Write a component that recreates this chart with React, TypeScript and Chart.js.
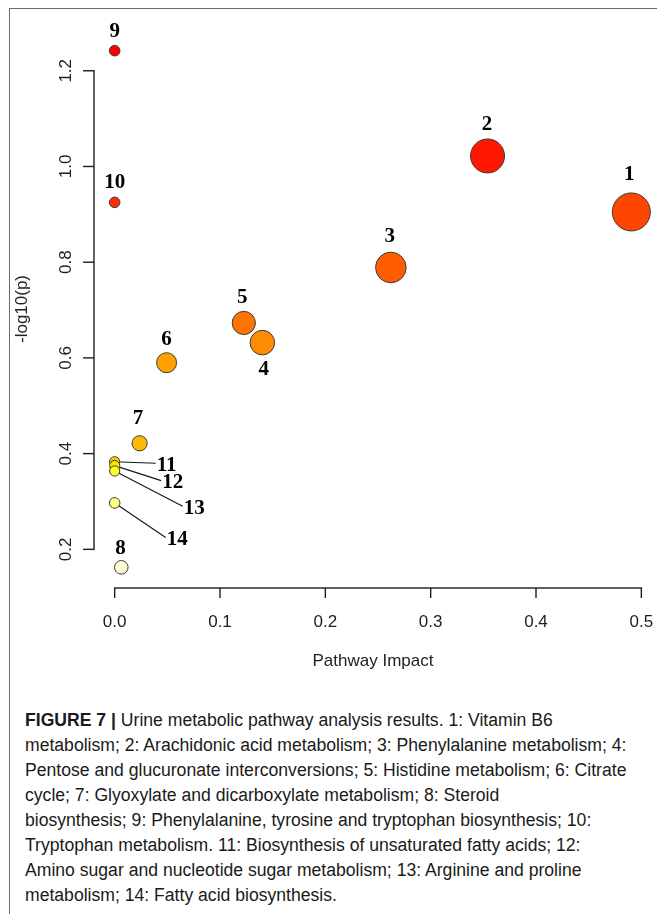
import React, { useEffect, useRef } from "react";
import { Chart, registerables } from "chart.js";

Chart.register(...registerables);

// ---- data ----
const pathwayIds = ["1", "2", "3", "4", "5", "6", "7", "8", "9", "10", "11", "12", "13", "14"];
const pathwayImpact = [0.4905, 0.354, 0.2622, 0.1402, 0.1226, 0.0493, 0.0237, 0.0063, 0.0, 0.0, 0.0, 0.0, 0.0, 0.0];
const negLog10P = [0.905, 1.022, 0.789, 0.632, 0.673, 0.590, 0.4216, 0.1624, 1.242, 0.925, 0.383, 0.375, 0.3637, 0.297];
const bubbleRadius = [19, 17, 15.3, 12.3, 11.6, 10, 7.6, 6.8, 5.3, 5.3, 5.1, 5.1, 5.1, 5.3];
const pointColors = ["#FF4600", "#FF1700", "#FF5D00", "#FF8B00", "#FF7400", "#FFA200", "#FFB900", "#FFFFD5", "#FF0000", "#FF2E00", "#FFD100", "#FFE800", "#FFFF2A", "#FFFF80"];
const xTickValues = [0, 0.1, 0.2, 0.3, 0.4, 0.5];
const xTickLabels = ["0.0", "0.1", "0.2", "0.3", "0.4", "0.5"];
const yTickValues = [0.2, 0.4, 0.6, 0.8, 1.0, 1.2];
const yTickLabels = ["0.2", "0.4", "0.6", "0.8", "1.0", "1.2"];
const xTitle = "Pathway Impact";
const yTitle = "-log10(p)";

const captionLines = [
  "Urine metabolic pathway analysis results. 1: Vitamin B6",
  "metabolism; 2: Arachidonic acid metabolism; 3: Phenylalanine metabolism; 4:",
  "Pentose and glucuronate interconversions; 5: Histidine metabolism; 6: Citrate",
  "cycle; 7: Glyoxylate and dicarboxylate metabolism; 8: Steroid",
  "biosynthesis; 9: Phenylalanine, tyrosine and tryptophan biosynthesis; 10:",
  "Tryptophan metabolism. 11: Biosynthesis of unsaturated fatty acids; 12:",
  "Amino sugar and nucleotide sugar metabolism; 13: Arginine and proline",
  "metabolism; 14: Fatty acid biosynthesis.",
];

// ---- label placement (pixel offsets from the point centre) ----
const LABEL_OFFSETS: [number, number, boolean][] = [
  [-2, -37, false],
  [-0.6, -31, false],
  [-1, -31, false],
  [1.5, 27, false],
  [-1.5, -25, false],
  [0, -23, false],
  [-1.7, -25, false],
  [-0.7, -19, false],
  [0, -19, false],
  [0, -19.6, false],
  [52, 3.5, true],
  [58, 17, true],
  [79.5, 37.3, true],
  [62.5, 36.5, true],
];

function rPad(vals: number[]) {
  const lo = Math.min(...vals);
  const hi = Math.max(...vals);
  const d = (hi - lo) * 0.04;
  return [lo - d, hi + d];
}

const AX_COLOR = "#1e1e1e";
const TICK_LEN = 10;

const LABEL_FONT = "bold 21px 'Liberation Serif', 'Times New Roman', serif";

const overlayPlugin = {
  id: "overlay",
  beforeDatasetsDraw(chart: any) {
    const { ctx } = chart;
    const meta = chart.getDatasetMeta(0);
    ctx.save();
    ctx.font = LABEL_FONT;
    ctx.strokeStyle = "#1a1a1a";
    ctx.lineWidth = 1.2;
    meta.data.forEach((el: any, i: number) => {
      const [dx, dy, leader] = LABEL_OFFSETS[i];
      if (!leader) return;
      const lx = el.x + dx;
      const ly = el.y + dy;
      const w = ctx.measureText(pathwayIds[i]).width;
      ctx.beginPath();
      ctx.moveTo(el.x, el.y);
      ctx.lineTo(lx - w / 2 - 1, ly - 2);
      ctx.stroke();
    });
    ctx.restore();
  },
  afterDatasetsDraw(chart: any) {
    const ctx = chart.ctx;
    const meta = chart.getDatasetMeta(0);
    ctx.save();
    ctx.font = LABEL_FONT;
    ctx.fillStyle = "#000";
    ctx.textAlign = "center";
    ctx.textBaseline = "middle";
    meta.data.forEach((el: any, i: number) => {
      const [dx, dy] = LABEL_OFFSETS[i];
      ctx.fillText(pathwayIds[i], el.x + dx, el.y + dy);
    });
    ctx.restore();
  },
  afterDraw(chart: any) {
    // R-style axes: line spans first to last tick, outward tick marks
    const ctx = chart.ctx;
    const xs = chart.scales.x;
    const ys = chart.scales.y;
    const xb = Math.round(xs.top);
    const yl = Math.round(ys.right);
    const lw = 1.4;
    ctx.save();
    ctx.beginPath();
    ctx.rect(0, 0, chart.width, chart.height);
    ctx.clip();
    ctx.globalAlpha = 1;
    ctx.globalCompositeOperation = "source-over";
    ctx.fillStyle = AX_COLOR;
    const x0 = xs.getPixelForValue(xTickValues[0]);
    const x1 = xs.getPixelForValue(xTickValues[xTickValues.length - 1]);
    ctx.fillRect(x0 - lw / 2, xb - lw / 2, x1 - x0 + lw, lw);
    xTickValues.forEach((v) => {
      const px = xs.getPixelForValue(v);
      ctx.fillRect(px - lw / 2, xb, lw, TICK_LEN);
    });
    const y0 = ys.getPixelForValue(yTickValues[0]);
    const y1 = ys.getPixelForValue(yTickValues[yTickValues.length - 1]);
    ctx.fillRect(yl - lw / 2, y1 - lw / 2, lw, y0 - y1 + lw);
    yTickValues.forEach((v) => {
      const py = ys.getPixelForValue(v);
      ctx.fillRect(yl - TICK_LEN - 1, py - lw / 2, TICK_LEN + 1, lw);
    });
    ctx.restore();
  },
};

function ChartCanvas() {
  const ref = useRef<HTMLCanvasElement | null>(null);
  useEffect(() => {
    if (!ref.current) return;
    const [xMin, xMax] = rPad(pathwayImpact);
    const [yMin, yMax] = rPad(negLog10P);
    const tickFont = { family: "'Liberation Sans', Arial, sans-serif", size: 17 };
    const chart = new Chart(ref.current, {
      type: "bubble",
      data: {
        datasets: [
          {
            data: pathwayImpact.map((x, i) => ({ x, y: negLog10P[i], r: bubbleRadius[i] })),
            backgroundColor: pointColors,
            borderColor: "#3a3a3a",
            borderWidth: 1,
            hoverRadius: 0,
            clip: false,
          } as any,
        ],
      },
      options: {
        animation: false,
        responsive: false,
        maintainAspectRatio: false,
        events: [],
        layout: { padding: { top: 21, right: 0, left: 0, bottom: 0 } },
        plugins: { legend: { display: false }, tooltip: { enabled: false } },
        scales: {
          x: {
            type: "linear",
            min: xMin,
            max: xMax,
            afterBuildTicks: (s: any) => {
              s.ticks = xTickValues.map((v) => ({ value: v }));
            },
            afterFit: (s: any) => {
              s.height = 102;
              s.paddingLeft = 0;
              s.paddingRight = 0;
            },
            border: { display: false },
            grid: { display: false },
            ticks: {
              padding: 16,
              color: "#1c1c2a",
              font: tickFont,
              maxRotation: 0,
              autoSkip: false,
              callback: (_v: any, i: number) => xTickLabels[i],
            },
            title: {
              display: true,
              text: xTitle,
              color: "#222",
              font: tickFont,
              padding: { top: 0, bottom: 18 },
            },
          },
          y: {
            type: "linear",
            min: yMin,
            max: yMax,
            afterBuildTicks: (s: any) => {
              s.ticks = yTickValues.map((v) => ({ value: v }));
            },
            afterFit: (s: any) => {
              s.width = 85;
              s.paddingTop = 0;
              s.paddingBottom = 0;
            },
            border: { display: false },
            grid: { display: false },
            ticks: {
              padding: 8,
              color: "#1c1c2a",
              font: tickFont,
              minRotation: 90,
              maxRotation: 90,
              crossAlign: "center",
              autoSkip: false,
              callback: (_v: any, i: number) => yTickLabels[i],
            },
            title: {
              display: true,
              text: yTitle,
              color: "#222",
              font: tickFont,
              padding: { top: 3, bottom: 0 },
            },
          },
        },
      } as any,
      plugins: [overlayPlugin],
    });
    return () => chart.destroy();
  }, []);
  return (
    <div style={{ position: "absolute", left: 9, top: 9, width: 648, height: 681, overflow: "hidden" }}>
      <canvas ref={ref} width={663} height={681} style={{ display: "block", width: 663, height: 681 }} />
    </div>
  );
}

export default function App() {
  return (
    <div>
      <div
        style={{
          position: "absolute",
          left: 9,
          top: 8,
          width: 648,
          height: 906,
          borderTop: "1px solid #6a6a6a",
          borderLeft: "1px solid #6a6a6a",
          boxSizing: "border-box",
        }}
      />
      <ChartCanvas />
      <div
        style={{
          position: "absolute",
          left: 25,
          top: 708,
          width: 632,
          fontFamily: "'Liberation Sans', Arial, sans-serif",
          fontSize: 17.6,
          lineHeight: "25px",
          color: "#1a1a1a",
          whiteSpace: "pre",
        }}
      >
        {captionLines.map((line, i) => (
          <div key={i}>
            {i === 0 ? <b>FIGURE 7 | </b> : null}
            {line}
          </div>
        ))}
      </div>
    </div>
  );
}
